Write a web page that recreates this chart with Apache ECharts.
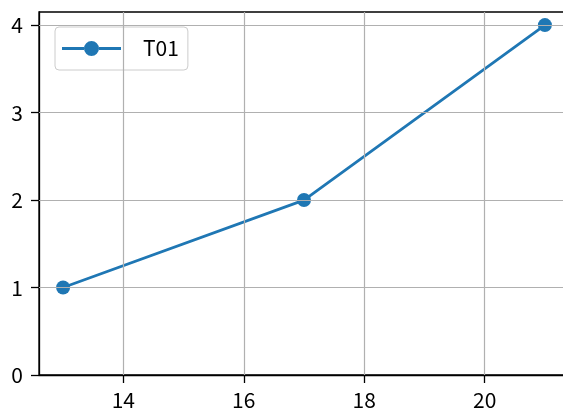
<!DOCTYPE html>
<html><head><meta charset="utf-8">
<script src="https://cdn.jsdelivr.net/npm/echarts@6/dist/echarts.min.js"></script>
<style>html,body{margin:0;padding:0;background:#fff}#c{width:563px;height:414px}</style>
</head><body><div id="c"></div>
<script>
const xValues = [13, 17, 21];
const yValues = [1, 2, 4];
const seriesName = 'T01';
const xTicks = [14, 16, 18, 20];
const yTicks = [0, 1, 2, 3, 4];
const FONT = '"Noto Sans CJK JP", "DejaVu Sans", sans-serif';

const chart = echarts.init(document.getElementById('c'), null, {renderer: 'canvas'});
chart.setOption({
  animation: false,
  backgroundColor: '#fff',
  grid: {left: 39, top: 12, width: 530, height: 363, outerBoundsMode: 'none', containLabel: false,
    show: true, borderColor: '#000', borderWidth: 1.3, backgroundColor: 'transparent'},
  legend: {
    left: 55, top: 27, itemWidth: 59, itemHeight: 15, itemGap: 10,
    padding: [11, 9, 11, 7],
    backgroundColor: 'rgba(255,255,255,0.8)', borderColor: '#cccccc', borderWidth: 1, borderRadius: 4,
    textStyle: {fontFamily: FONT, fontSize: 21, lineHeight: 21, color: '#000', padding: [0, 0, 0, 17]},
    data: [{name: seriesName, icon: 'path://M0,6 L22,6 L22,9 L0,9 Z M37,6 L59,6 L59,9 L37,9 Z M22,7.5 a7.5,7.5 0 1,1 15,0 a7.5,7.5 0 1,1 -15,0 Z'}]
  },
  xAxis: {
    type: 'value', min: 12.6, max: 21.4,
    axisLine: {show: true, onZero: false, lineStyle: {color: '#000', width: 1.3}},
    axisTick: {show: true, inside: false, length: 8, customValues: xTicks, lineStyle: {color: '#000', width: 1.3}},
    axisLabel: {customValues: xTicks, fontFamily: FONT, fontSize: 21, color: '#000', margin: 15},
    splitLine: {show: false}
  },
  yAxis: {
    type: 'value', min: 0, max: 4.15,
    axisLine: {show: true, onZero: false, lineStyle: {color: '#000', width: 1.3}},
    axisTick: {show: true, length: 8, customValues: yTicks, lineStyle: {color: '#000', width: 1.3}},
    axisLabel: {customValues: yTicks, fontFamily: FONT, fontSize: 21, color: '#000', margin: 16},
    splitLine: {show: false}
  },
  series: [
    {
      type: 'line', name: '_grid', data: [], silent: true, z: 1,
      markLine: {silent: true, symbol: 'none', label: {show: false},
        lineStyle: {color: '#b0b0b0', width: 1.2, type: 'solid'},
        data: xTicks.map(v => ({xAxis: v})).concat(yTicks.slice(1).map(v => ({yAxis: v})))}
    },
    {
      type: 'line', name: seriesName, z: 3,
      data: xValues.map((x, i) => [x, yValues[i]]),
      symbol: 'circle', symbolSize: 14,
      lineStyle: {color: '#1f77b4', width: 2.8},
      itemStyle: {color: '#1f77b4'}
    }
  ]
});
</script></body></html>
